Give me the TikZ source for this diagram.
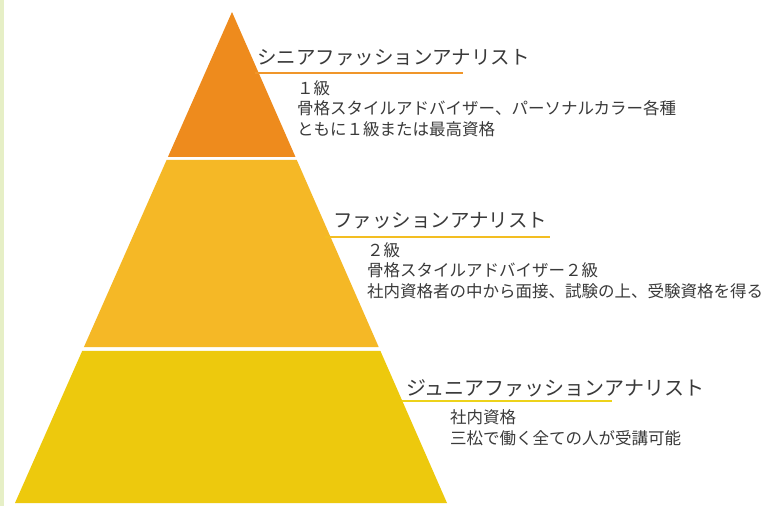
\documentclass[tikz,border=0pt]{standalone}
\usepackage{fontspec}
\newfontfamily\jp{Noto Sans CJK JP}
\usetikzlibrary{calc}
\definecolor{topc}{HTML}{EE8B1D}
\definecolor{midc}{HTML}{F5B826}
\definecolor{botc}{HTML}{EDC90D}
\definecolor{ul1}{HTML}{F0962A}
\definecolor{ul2}{HTML}{F3BE22}
\definecolor{ul3}{HTML}{EDD21A}
\definecolor{txt}{HTML}{3A3A3A}
\definecolor{edgegreen}{HTML}{E6EFC6}
\tikzset{
  title/.style={anchor=base west, inner sep=0pt, text=txt, font=\jp\fontsize{19.5}{22}\selectfont},
  body/.style={anchor=base west, inner sep=0pt, text=txt, align=left, font=\jp\fontsize{16.5}{20.5}\selectfont},
  uline/.style={line width=2.4pt}
}
\begin{document}
\begin{tikzpicture}[x=1pt,y=-1pt]
\useasboundingbox (0,0) rectangle (770,506);
\fill[white] (0,0) rectangle (770,506);
\fill[edgegreen] (0,0) rectangle (4,506);
% pyramid corners
\coordinate (A) at (232,12);
\coordinate (L) at (15,503);
\coordinate (R) at (447,503);
\coordinate (l1) at ($(A)!0.2953!(L)$);
\coordinate (r1) at ($(A)!0.2953!(R)$);
\coordinate (l2) at ($(A)!0.3014!(L)$);
\coordinate (r2) at ($(A)!0.3014!(R)$);
\coordinate (l3) at ($(A)!0.6823!(L)$);
\coordinate (r3) at ($(A)!0.6823!(R)$);
\coordinate (l4) at ($(A)!0.6904!(L)$);
\coordinate (r4) at ($(A)!0.6904!(R)$);
\fill[topc] (A) -- (r1) -- (l1) -- cycle;
\fill[midc] (l2) -- (r2) -- (r3) -- (l3) -- cycle;
\fill[botc] (l4) -- (r4) -- (R) -- (L) -- cycle;
% senior
\node[title] (t1) at (257,64) {シニアファッションアナリスト};
\coordinate (u1a) at (255,73);
\coordinate (u1b) at (463,73);
\draw[uline, ul1] (u1a) -- (u1b);
\node[body] (b1) at (297,135) {１級\\骨格スタイルアドバイザー、パーソナルカラー各種\\ともに１級または最高資格};
% middle
\node[title] (t2) at (333,227) {ファッションアナリスト};
\coordinate (u2a) at (325,237);
\coordinate (u2b) at (550,237);
\draw[uline, ul2] (u2a) -- (u2b);
\node[body] (b2) at (367,297) {２級\\骨格スタイルアドバイザー２級\\社内資格者の中から面接、試験の上、受験資格を得る};
% junior
\node[title, font=\jp\fontsize{20}{22}\selectfont] (t3) at (406,395) {ジュニアファッションアナリスト};
\coordinate (u3a) at (402,401);
\coordinate (u3b) at (612,401);
\draw[uline, ul3] (u3a) -- (u3b);
\node[body] (b3) at (450,444) {社内資格\\三松で働く全ての人が受講可能};
\end{tikzpicture}
\end{document}
